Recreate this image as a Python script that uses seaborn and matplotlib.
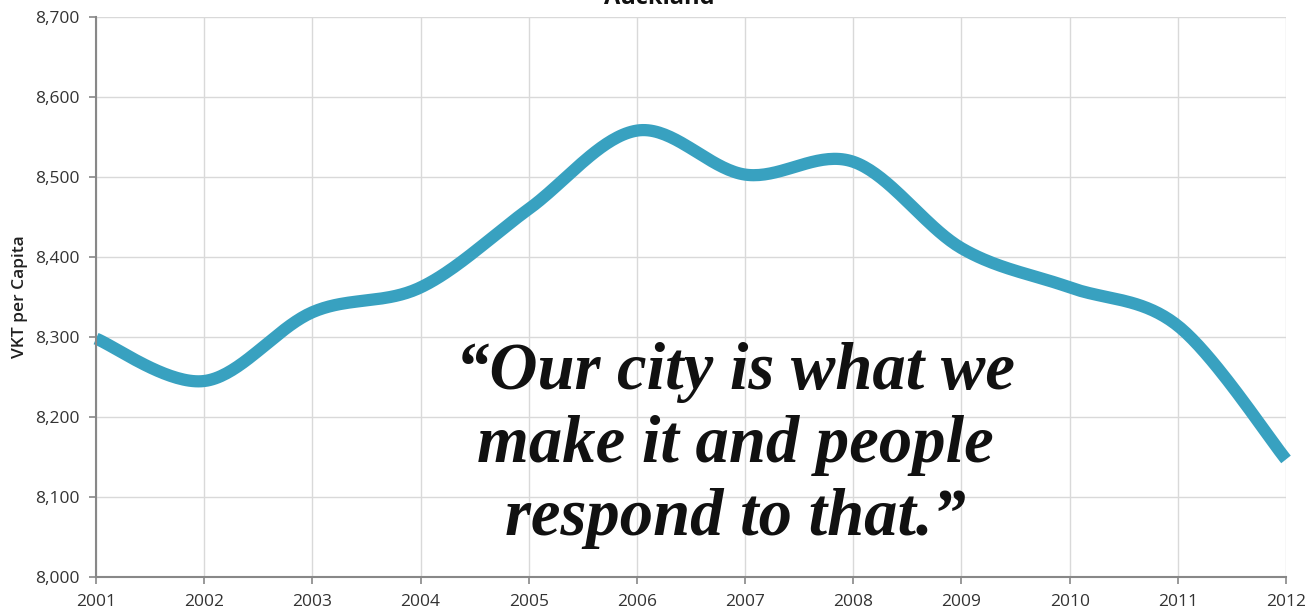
import numpy as np
import pandas as pd
import seaborn as sns
import matplotlib.pyplot as plt
from matplotlib.ticker import FuncFormatter

# data
years = [2001, 2002, 2003, 2004, 2005, 2006, 2007, 2008, 2009, 2010, 2011, 2012]
vkt_per_capita = [8298, 8245, 8331, 8362, 8460, 8558, 8503, 8519, 8411, 8362, 8314, 8147]
title = 'Auckland'
y_label = 'VKT per Capita'
quote = '\u201cOur city is what we\nmake it and people\nrespond to that.\u201d'


def smooth_curve(xs, ys, n=40):
    # Excel style smoothed line: cubic bezier segments, catmull-rom tangents
    xs = np.asarray(xs, float)
    ys = np.asarray(ys, float)
    px = np.concatenate([[xs[0]], xs, [xs[-1]]])
    py = np.concatenate([[ys[0]], ys, [ys[-1]]])
    out_x, out_y = [], []
    t = np.linspace(0, 1, n)
    for i in range(1, len(px) - 2):
        p0 = np.array([px[i], py[i]])
        p3 = np.array([px[i + 1], py[i + 1]])
        c1 = p0 + (p3 - np.array([px[i - 1], py[i - 1]])) / 6
        c2 = p3 - (np.array([px[i + 2], py[i + 2]]) - p0) / 6
        b = ((1 - t) ** 3)[:, None] * p0 + (3 * (1 - t) ** 2 * t)[:, None] * c1 \
            + (3 * (1 - t) * t ** 2)[:, None] * c2 + (t ** 3)[:, None] * p3
        out_x.extend(b[:, 0])
        out_y.extend(b[:, 1])
    return out_x, out_y


sns.set_theme(style='whitegrid')
plt.rcParams['font.family'] = ['Open Sans', 'DejaVu Sans']

fig = plt.figure(figsize=(13.14, 6.13), dpi=100)
ax = fig.add_axes([0.0731, 0.0587, 0.9056, 0.9136])

sx, sy = smooth_curve(years, vkt_per_capita)
curve = pd.DataFrame({'year': sx, 'vkt': sy})
sns.lineplot(data=curve, x='year', y='vkt', sort=False, color='#38A1C0',
             linewidth=8.8, solid_capstyle='butt', ax=ax, clip_on=False)

ax.set_xlim(years[0], years[-1])
ax.set_ylim(8000, 8700)
ax.set_xticks(years)
ax.set_yticks(range(8000, 8701, 100))
ax.yaxis.set_major_formatter(FuncFormatter(lambda v, p: f'{int(v):,}'))
ax.grid(True, color='#d9d9d9', linewidth=1)
ax.set_xlabel('')
ax.set_ylabel(y_label, fontsize=12.5, fontweight='semibold', color='#202020', labelpad=5)

for side in ['top', 'right']:
    ax.spines[side].set_visible(False)
for side in ['left', 'bottom']:
    ax.spines[side].set_color('#888888')
    ax.spines[side].set_linewidth(1.5)
ax.tick_params(axis='both', which='major', length=5, width=1.2, color='#888888',
               labelsize=12.5, labelcolor='#333333', bottom=True, left=True)
ax.tick_params(axis='x', pad=7)
ax.tick_params(axis='y', pad=7)

fig.text(0.502, 0.994, title, ha='center', va='baseline', fontsize=17,
         fontweight='bold', color='#111111')

ax.text(0.537, 0.235, quote, transform=ax.transAxes, ha='center', va='center',
        fontsize=48, fontweight='bold', fontstyle='italic',
        family=['Liberation Serif', 'DejaVu Serif'], color='#111111',
        linespacing=1.26)

fig.savefig('out.png', dpi=100)
